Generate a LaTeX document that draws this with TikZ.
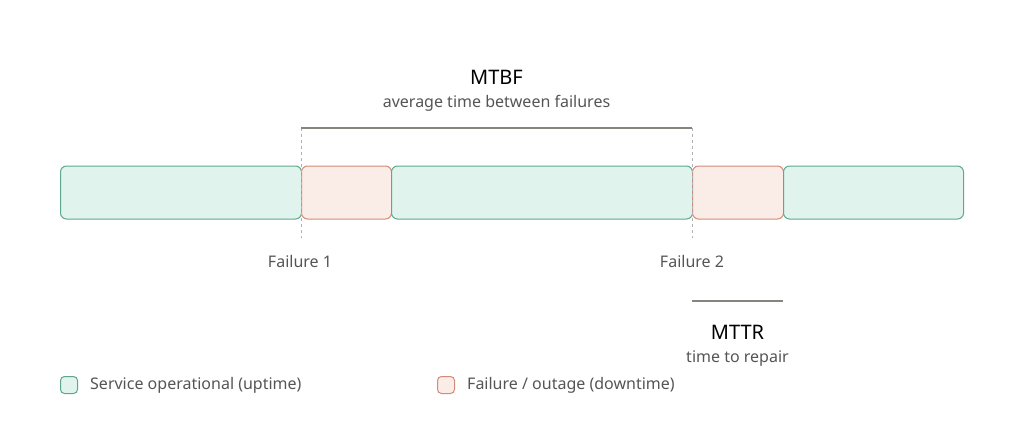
\documentclass[tikz,border=0pt]{standalone}
\usepackage{fontspec}
\setmainfont{Noto Sans}
\usetikzlibrary{positioning}

\definecolor{upfill}{HTML}{E0F3EC}
\definecolor{updraw}{HTML}{5FA88E}
\definecolor{downfill}{HTML}{FAECE6}
\definecolor{downdraw}{HTML}{D48B78}
\definecolor{txtgray}{HTML}{555555}
\definecolor{spangray}{HTML}{858580}

\begin{document}
\begin{tikzpicture}[
    x=1pt, y=-1pt,
    seg/.style={rectangle, rounded corners=6pt, minimum height=53pt, inner sep=0pt, anchor=west, line width=1pt},
    up/.style={seg, draw=updraw, fill=upfill},
    down/.style={seg, draw=downdraw, fill=downfill},
    key/.style={rectangle, rounded corners=4pt, minimum size=17pt, inner sep=0pt, line width=1pt},
    span/.style={draw=spangray, line width=2pt},
    failmark/.style={draw=gray!60, dashed, line width=0.8pt},
    lbl/.style={text=txtgray, font=\fontsize{16}{19}\selectfont, inner sep=0pt},
    head/.style={text=black, font=\fontsize{20}{24}\selectfont, inner sep=0pt}
]
\useasboundingbox (0,0) rectangle (1024,437);

% Timeline segments
\node[up, minimum width=241pt] (up1) at (60,192.5) {};
\node[down, minimum width=90pt] (down1) at (301,192.5) {};
\node[up, minimum width=301pt] (up2) at (391,192.5) {};
\node[down, minimum width=91pt] (down2) at (692,192.5) {};
\node[up, minimum width=180pt] (up3) at (783,192.5) {};

% Failure markers
\coordinate (f1top) at (301,128);
\coordinate (f1bot) at (301,238);
\coordinate (f2top) at (692,128);
\coordinate (f2bot) at (692,238);
\draw[failmark] (f1top) -- (f1bot);
\draw[failmark] (f2top) -- (f2bot);
\node[lbl] (fail1) at (300,261) {Failure 1};
\node[lbl] (fail2) at (692,261) {Failure 2};

% MTBF span
\draw[span] (f1top) -- (f2top);
\node[head] (mtbf) at (496.5,77) {MTBF};
\node[lbl] (mtbfsub) at (496.5,103) {average time between failures};

% MTTR span
\coordinate (r1) at (692,301);
\coordinate (r2) at (783,301);
\draw[span] (r1) -- (r2);
\node[head] (mttr) at (737.5,332) {MTTR};
\node[lbl] (mttrsub) at (737.5,359) {time to repair};

% Legend
\node[key, draw=updraw, fill=upfill] (keyup) at (69,385) {};
\node[lbl, anchor=west, right=12pt of keyup] (keyuptxt) {Service operational (uptime)};
\node[key, draw=downdraw, fill=downfill] (keydown) at (446,385) {};
\node[lbl, anchor=west, right=12pt of keydown] (keydowntxt) {Failure / outage (downtime)};

\end{tikzpicture}
\end{document}
